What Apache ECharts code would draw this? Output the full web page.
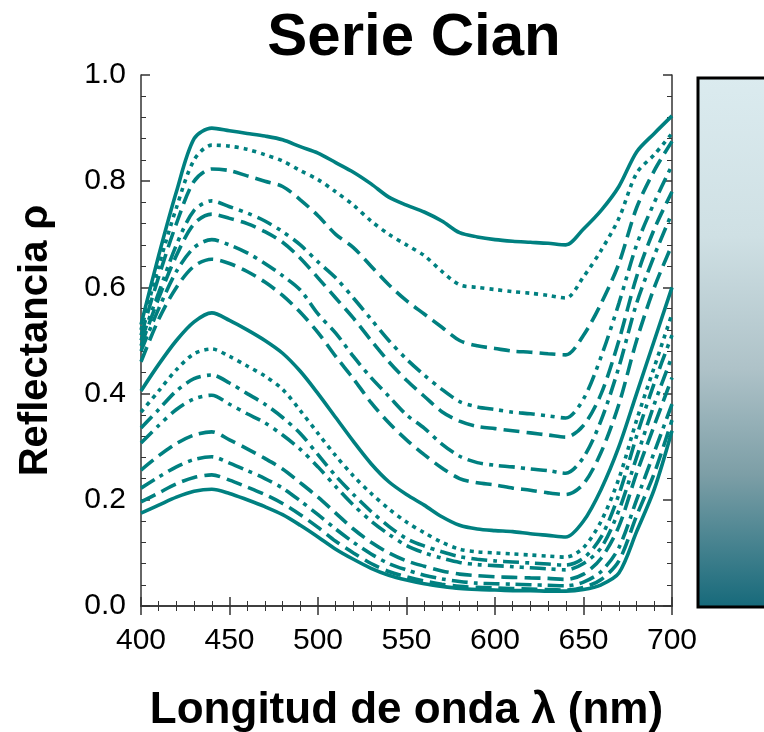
<!DOCTYPE html>
<html>
<head>
<meta charset="utf-8">
<script src="https://cdn.jsdelivr.net/npm/echarts@6/dist/echarts.min.js"></script>
<style>
  html, body { margin: 0; padding: 0; background: #fff; }
  #chart { width: 764px; height: 732px; }
</style>
</head>
<body>
<div id="chart"></div>
<script>
// Wavelength samples (nm)
const wavelengths = [400, 410, 420, 430, 440, 450, 460, 470, 480, 490, 500, 510, 520, 530, 540, 550,
  560, 570, 580, 590, 600, 610, 620, 630, 640, 650, 660, 670, 680, 690, 700];

// Reflectance spectra, lightest sample first
const muestra01 = [.53, .66, .78, .88, .90, .895, .89, .885, .878, .865, .853, .835, .817, .795, .77, .755,
  .742, .725, .703, .695, .69, .687, .685, .683, .68, .71, .745, .79, .855, .89, .923];
const muestra02 = [.52, .64, .75, .84, .868, .866, .86, .85, .838, .82, .803, .78, .755, .725, .70, .68,
  .66, .63, .605, .60, .596, .592, .589, .585, .58, .62, .67, .73, .815, .85, .89];
const muestra03 = [.51, .62, .72, .80, .823, .82, .81, .80, .79, .765, .735, .70, .675, .64, .605, .575,
  .55, .525, .50, .49, .485, .48, .478, .475, .473, .51, .57, .645, .75, .82, .875];
const muestra04 = [.50, .59, .68, .745, .763, .752, .74, .725, .705, .68, .648, .618, .58, .54, .50, .465,
  .435, .408, .385, .375, .37, .365, .362, .358, .354, .39, .47, .57, .68, .76, .83];
const muestra05 = [.49, .58, .66, .72, .738, .73, .72, .705, .685, .655, .618, .58, .542, .50, .46, .425,
  .395, .366, .348, .338, .334, .33, .326, .322, .318, .34, .40, .50, .62, .71, .78];
const muestra06 = [.48, .56, .63, .675, .69, .68, .665, .645, .622, .595, .55, .514, .47, .43, .395, .36,
  .335, .305, .282, .27, .265, .262, .258, .255, .25, .28, .35, .45, .57, .66, .74];
const muestra07 = [.46, .54, .60, .64, .653, .645, .63, .61, .585, .553, .515, .47, .428, .383, .345, .313,
  .285, .26, .24, .232, .228, .222, .218, .213, .21, .23, .29, .38, .50, .60, .68];
const muestra08 = [.405, .455, .50, .535, .552, .538, .52, .50, .476, .442, .40, .355, .31, .268, .234, .21,
  .19, .168, .152, .145, .142, .14, .136, .133, .13, .16, .22, .30, .40, .50, .60];
const muestra09 = [.365, .405, .445, .475, .484, .47, .452, .433, .408, .368, .325, .283, .245, .212, .183, .158,
  .138, .12, .107, .102, .10, .098, .096, .094, .092, .11, .16, .24, .35, .45, .55];
const muestra10 = [.335, .37, .405, .428, .435, .42, .40, .38, .355, .325, .285, .245, .21, .178, .15, .127,
  .113, .102, .093, .088, .085, .083, .081, .079, .077, .09, .13, .21, .32, .42, .51];
const muestra11 = [.307, .34, .37, .39, .397, .38, .362, .345, .322, .295, .262, .225, .19, .16, .135, .114,
  .10, .09, .082, .078, .076, .074, .072, .07, .068, .08, .11, .18, .28, .38, .47];
const muestra12 = [.256, .283, .306, .322, .328, .313, .296, .278, .258, .232, .205, .175, .145, .12, .10, .085,
  .075, .066, .06, .057, .055, .054, .053, .052, .05, .06, .09, .15, .25, .34, .43];
const muestra13 = [.222, .243, .262, .276, .281, .269, .255, .24, .222, .198, .172, .145, .12, .098, .08, .068,
  .058, .051, .046, .043, .042, .041, .04, .039, .038, .045, .065, .11, .20, .29, .38];
const muestra14 = [.196, .213, .23, .242, .247, .237, .224, .21, .193, .172, .148, .122, .10, .08, .065, .055,
  .047, .041, .037, .035, .034, .033, .032, .031, .03, .035, .05, .085, .17, .25, .35];
const muestra15 = [.175, .19, .205, .216, .22, .212, .20, .187, .172, .152, .13, .107, .088, .071, .058, .049,
  .042, .037, .033, .031, .03, .029, .029, .028, .028, .031, .04, .062, .14, .22, .33];

const spectra = [muestra01, muestra02, muestra03, muestra04, muestra05, muestra06, muestra07, muestra08,
  muestra09, muestra10, muestra11, muestra12, muestra13, muestra14, muestra15];

// Dash pattern of each spectrum
const dashStyles = ['solid', 'dot', 'dash', 'dashdotdot', 'dash', 'dashdot', 'dash',
  'solid', 'dot', 'dashdot', 'dashdotdot', 'dash', 'dashdot', 'dash', 'solid'];

const xTicks = [400, 450, 500, 550, 600, 650, 700];
const yTicks = [0.0, 0.2, 0.4, 0.6, 0.8, 1.0];

const TEAL = '#008080';
const FONT = 'Liberation Sans, Arial, sans-serif';
const patterns = {
  solid: 'solid',
  dot: [4, 5],
  dash: [16, 7],
  dashdot: [16, 6, 4, 6],
  dashdotdot: [16, 6, 4, 6, 4, 6]
};

const chart = echarts.init(document.getElementById('chart'), null, { renderer: 'canvas' });

const series = spectra.map((vals, i) => ({
  type: 'line',
  name: 'm' + (i + 1),
  data: wavelengths.map((w, k) => [w, vals[k]]),
  smooth: 0.3,
  showSymbol: false,
  symbol: 'none',
  clip: true,
  lineStyle: { color: TEAL, width: 3.6, type: patterns[dashStyles[i]], cap: 'butt' },
  z: 3
}));

const tickFont = { fontFamily: FONT, fontSize: 30, color: '#000' };
const frameLine = { show: true, lineStyle: { color: '#333', width: 1.5 } };
const majorTick = { show: true, inside: true, length: 9, lineStyle: { color: '#333', width: 1.5 } };
const minorTick = { show: true, splitNumber: 5, length: 5, lineStyle: { color: '#333', width: 1 } };

chart.setOption({
  animation: false,
  backgroundColor: '#fff',
  title: {
    text: 'Serie Cian',
    left: 409, top: 3, textAlign: 'center',
    textStyle: { fontFamily: FONT, fontWeight: 'bold', fontSize: 60, color: '#000' }
  },
  grid: { left: 141, right: 92, top: 75, bottom: 126, containLabel: false, outerBoundsMode: 'none' },
  xAxis: [{
    type: 'value', min: 400, max: 700, interval: 50, position: 'bottom',
    axisLine: frameLine, axisTick: majorTick, minorTick: minorTick,
    splitLine: { show: false },
    axisLabel: Object.assign({ margin: 20, formatter: v => xTicks.includes(v) ? String(v) : '' }, tickFont),
    name: 'Longitud de onda λ (nm)', nameLocation: 'middle', nameGap: 83,
    nameTextStyle: { fontFamily: FONT, fontWeight: 'bold', fontSize: 44, color: '#000' }
  }, {
    type: 'value', min: 400, max: 700, interval: 50, position: 'top',
    axisLine: frameLine, axisTick: majorTick, minorTick: minorTick,
    splitLine: { show: false }, axisLabel: { show: false }
  }],
  yAxis: [{
    type: 'value', min: 0, max: 1, interval: 0.2, position: 'left',
    axisLine: frameLine, axisTick: majorTick, minorTick: minorTick,
    splitLine: { show: false },
    axisLabel: Object.assign({ margin: 15, formatter: v => yTicks.some(t => Math.abs(t - v) < 1e-9) ? v.toFixed(1) : '' }, tickFont),
    name: 'Reflectancia ρ', nameLocation: 'middle', nameGap: 85, nameRotate: 90,
    nameTextStyle: { fontFamily: FONT, fontWeight: 'bold', fontSize: 40, color: '#000' }
  }, {
    type: 'value', min: 0, max: 1, interval: 0.2, position: 'right',
    axisLine: frameLine, axisTick: majorTick, minorTick: minorTick,
    splitLine: { show: false }, axisLabel: { show: false }
  }],
  graphic: [{
    // colour swatch strip beside the plot
    type: 'rect',
    shape: { x: 698, y: 78, width: 90, height: 529 },
    style: {
      fill: new echarts.graphic.LinearGradient(0, 0, 0, 1, [
        { offset: 0, color: '#dbebef' },
        { offset: 0.3, color: '#cfe0e4' },
        { offset: 0.55, color: '#aec2c8' },
        { offset: 0.75, color: '#7c9ea6' },
        { offset: 1, color: '#15697a' }
      ]),
      stroke: '#000', lineWidth: 3
    },
    z: 10
  }],
  series: series
});
</script>
</body>
</html>
